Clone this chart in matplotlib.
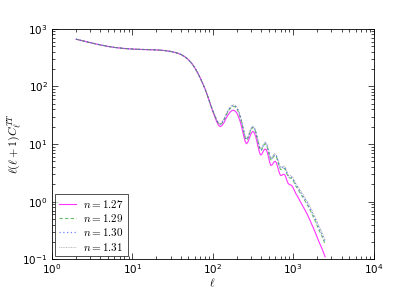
import matplotlib
matplotlib.use("Agg")
import matplotlib.pyplot as plt
from matplotlib.font_manager import FontProperties

# multipole moments shared by all four curves
ell_low = [2, 3, 4, 5, 6, 8, 10, 12, 15, 20, 25, 30, 35, 40, 45, 50, 55, 60,
           65, 70, 75, 80, 85, 90, 95]
ell_high = [100, 106, 112, 118, 124, 130, 138, 146, 155, 164, 173, 182, 192,
            202, 212, 222, 232, 242, 252, 262, 272, 284, 296, 308, 318, 330,
            342, 354, 366, 378, 392, 404, 418, 432, 448, 464, 480, 496, 512,
            528, 545, 562, 580, 600, 620, 640, 660, 680, 700, 722, 745, 770,
            795, 820, 845, 870, 900, 930, 960, 990, 1030, 1080, 1150, 1220,
            1300, 1400, 1500, 1650, 1800, 1950, 2100, 2300, 2500]
ell = ell_low + ell_high

# large scales: the four spectra coincide
cl_low = [660, 575, 525, 495, 475, 455, 445, 440, 435, 430, 420, 405, 385,
          360, 328, 290, 250, 210, 172, 140, 113, 92, 73, 58, 46]

cl_127 = cl_low + [37, 30, 24.5, 21.2, 20, 20.8, 23.5, 27.5, 32, 35.5, 38,
                   38.5, 37, 33.5, 28.5, 23.5, 18.5, 14.2, 11.3, 10.1, 10.6,
                   12.3, 14.5, 16.1, 16.5, 15.6, 13.6, 11.2, 9.1, 7.5, 6.5,
                   6.5, 7.1, 7.8, 8.2, 8.0, 7.0, 5.8, 4.8, 4.25, 4.3, 4.6,
                   4.9, 5.0, 4.7, 4.1, 3.5, 3.05, 2.85, 2.85, 2.95, 2.98,
                   2.85, 2.55, 2.25, 2.05, 1.98, 1.95, 1.9, 1.8, 1.6, 1.38,
                   1.2, 1.02, 0.87, 0.72, 0.6, 0.45, 0.34, 0.26, 0.2, 0.15,
                   0.11]
cl_129 = cl_low + [38.3, 31.3, 25.9, 22.7, 21.7, 22.8, 26.1, 31.0, 36.5, 41.0,
                   44.4, 45.2, 43.7, 39.8, 34.1, 28.1, 22.1, 16.9, 13.2, 11.7,
                   12.2, 14.3, 16.9, 18.8, 19.3, 18.3, 16.1, 13.3, 10.9, 9.0,
                   7.7, 7.8, 8.6, 9.5, 10.0, 9.8, 8.6, 7.2, 5.9, 5.3, 5.35,
                   5.8, 6.2, 6.3, 5.95, 5.2, 4.45, 3.9, 3.6, 3.65, 3.8, 3.8,
                   3.65, 3.3, 2.93, 2.67, 2.59, 2.56, 2.51, 2.39, 2.14, 1.86,
                   1.65, 1.42, 1.24, 1.04, 0.89, 0.68, 0.53, 0.41, 0.32,
                   0.247, 0.183]
cl_130 = cl_low + [38.6, 31.5, 26.2, 23.0, 22.0, 23.3, 26.7, 31.7, 37.4, 42.1,
                   45.8, 46.7, 45.2, 41.2, 35.3, 29.1, 22.9, 17.5, 13.6, 12.0,
                   12.6, 14.7, 17.5, 19.4, 19.9, 18.9, 16.6, 13.8, 11.3, 9.3,
                   8.0, 8.0, 8.9, 9.9, 10.4, 10.2, 9.0, 7.5, 6.2, 5.5, 5.6,
                   6.0, 6.4, 6.6, 6.2, 5.45, 4.65, 4.05, 3.8, 3.8, 3.95, 4.0,
                   3.85, 3.45, 3.07, 2.8, 2.72, 2.7, 2.64, 2.52, 2.25, 1.97,
                   1.74, 1.51, 1.31, 1.11, 0.95, 0.73, 0.57, 0.45, 0.35,
                   0.267, 0.199]
cl_131 = cl_low + [38.9, 31.8, 26.5, 23.3, 22.4, 23.7, 27.3, 32.5, 38.4, 43.3,
                   47.1, 48.1, 46.6, 42.5, 36.5, 30.1, 23.7, 18.0, 14.0, 12.3,
                   12.9, 15.1, 18.0, 20.0, 20.5, 19.5, 17.1, 14.2, 11.6, 9.6,
                   8.3, 8.3, 9.2, 10.2, 10.8, 10.6, 9.3, 7.8, 6.4, 5.7, 5.8,
                   6.3, 6.7, 6.9, 6.5, 5.7, 4.9, 4.2, 4.0, 4.0, 4.1, 4.2, 4.0,
                   3.6, 3.2, 2.9, 2.85, 2.83, 2.77, 2.65, 2.37, 2.07, 1.84,
                   1.59, 1.39, 1.18, 1.01, 0.78, 0.61, 0.48, 0.376, 0.288,
                   0.215]

labels = ["$n=1.27$", "$n=1.29$", "$n=1.30$", "$n=1.31$"]

fig = plt.figure(figsize=(4.15, 2.88), dpi=100)
ax = fig.add_axes([0.125, 0.1, 0.775, 0.8])

ax.plot(ell, cl_127, "-", color="#ff00ff", lw=0.8, alpha=0.8, label=labels[0])
ax.plot(ell, cl_129, "--", color="#2ca02c", lw=0.8, alpha=0.7, label=labels[1],
        dashes=(3, 2))
ax.plot(ell, cl_130, linestyle=(0, (1, 2)), color="#3050ff", lw=0.9, alpha=0.7,
        label=labels[2])
ax.plot(ell, cl_131, linestyle=(0, (1, 1)), color="0.5", lw=0.6, alpha=0.7,
        label=labels[3])

ax.set_xscale("log")
ax.set_yscale("log")
ax.set_xlim(1, 1e4)
ax.set_ylim(0.1, 1e3)

ax.tick_params(which="both", direction="in", top=True, right=True, labelsize=7.5)
ax.tick_params(axis="x", pad=2.5)
ax.tick_params(axis="y", pad=3)
ax.tick_params(which="major", length=4, width=0.5)
ax.tick_params(which="minor", length=2, width=0.5)
for s in ax.spines.values():
    s.set_linewidth(0.6)

xl = ax.set_xlabel(r"$\ell$", fontsize=8, labelpad=0)
yl = ax.set_ylabel(r"$\ell(\ell+1)C_\ell^{TT}$", fontsize=8.5, labelpad=-1)
xl.set_math_fontfamily("cm")
yl.set_math_fontfamily("cm")

leg = ax.legend(loc="lower left", prop=FontProperties(size=8, math_fontfamily="cm"),
                fancybox=False, handlelength=1.6, borderpad=0.35, labelspacing=0.2,
                borderaxespad=0.25, handletextpad=0.6)
leg.get_frame().set_edgecolor("black")
leg.get_frame().set_linewidth(0.6)

fig.savefig("out.png", dpi=100)
